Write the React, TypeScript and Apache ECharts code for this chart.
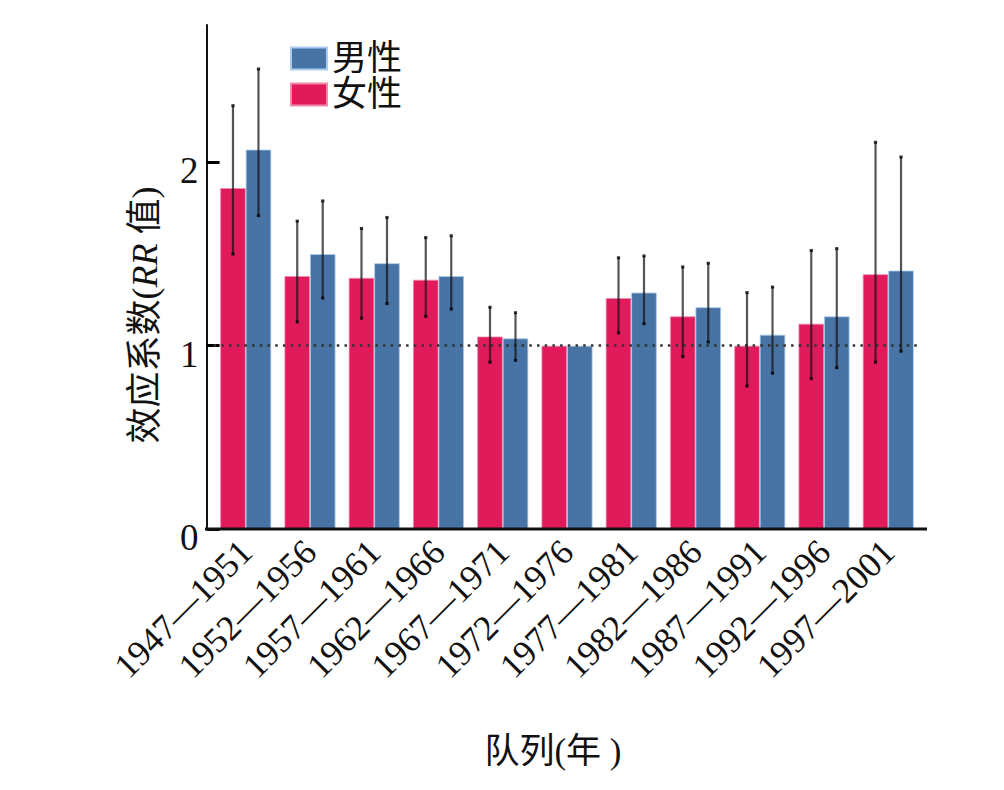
import React, { useEffect, useRef } from "react";
import * as echarts from "echarts";

const categories = [
  "1947—1951", "1952—1956", "1957—1961", "1962—1966", "1967—1971", "1972—1976",
  "1977—1981", "1982—1986", "1987—1991", "1992—1996", "1997—2001",
];
const femaleRR = [1.86, 1.38, 1.37, 1.36, 1.05, 1.0, 1.26, 1.16, 1.0, 1.12, 1.39];
const femaleLow = [1.50, 1.13, 1.15, 1.16, 0.91, 1.0, 1.07, 0.94, 0.78, 0.82, 0.91];
const femaleHigh = [2.31, 1.68, 1.64, 1.59, 1.21, 1.0, 1.48, 1.43, 1.29, 1.52, 2.11];
const maleRR = [2.07, 1.50, 1.45, 1.38, 1.04, 1.0, 1.29, 1.21, 1.06, 1.16, 1.41];
const maleLow = [1.71, 1.26, 1.23, 1.20, 0.92, 1.0, 1.12, 1.02, 0.85, 0.88, 0.97];
const maleHigh = [2.51, 1.79, 1.70, 1.60, 1.18, 1.0, 1.49, 1.45, 1.32, 1.53, 2.03];
const yTicks = [0, 1, 2];

const FEMALE = "#E11B5B";
const MALE = "#4873A5";
const BAR_W = 25.5;
const SERIF = "'Liberation Serif', 'Noto Sans CJK SC', serif";

function errorSeries(low: number[], high: number[], dx: number) {
  return {
    type: "custom",
    silent: true,
    z: 5,
    data: low.map((l, i) => [i, l, high[i]]),
    encode: { x: 0, y: [1, 2] },
    renderItem: (params: any, api: any) => {
      const i = api.value(0);
      const lo = api.value(1);
      const hi = api.value(2);
      if (lo === hi) return null;
      const pLo = api.coord([i, lo]);
      const pHi = api.coord([i, hi]);
      const x = pLo[0] + dx;
      const style = { stroke: "rgba(20,20,20,0.72)", lineWidth: 2.2 };
      const cap = { stroke: "rgba(0,0,0,0.8)", lineWidth: 3 };
      return {
        type: "group",
        children: [
          { type: "line", shape: { x1: x, y1: pLo[1], x2: x, y2: pHi[1] }, style },
          { type: "line", shape: { x1: x - 1.6, y1: pLo[1], x2: x + 1.6, y2: pLo[1] }, style: cap },
          { type: "line", shape: { x1: x - 1.6, y1: pHi[1], x2: x + 1.6, y2: pHi[1] }, style: cap },
        ],
      };
    },
  };
}

export default function App() {
  const ref = useRef<HTMLDivElement>(null);
  useEffect(() => {
    document.body.style.margin = "0";
    const chart = echarts.init(ref.current!, null, { renderer: "svg" });
    chart.setOption({
      animation: false,
      backgroundColor: "#ffffff",
      textStyle: { fontFamily: SERIF },
      legend: {
        orient: "vertical",
        left: 290,
        top: 41,
        padding: 0,
        data: ["男性", "女性"],
        itemWidth: 36,
        itemHeight: 22,
        itemGap: 1,
        icon: "rect",
        textStyle: { fontSize: 35, lineHeight: 34, color: "#111", fontFamily: SERIF },
      },
      grid: { left: 213.6, right: 83.6, top: 25, bottom: 261 },
      xAxis: {
        type: "category",
        data: categories,
        axisLine: { show: false },
        axisTick: { show: false },
        axisLabel: {
          rotate: 45,
          interval: 0,
          margin: 17,
          fontSize: 35.5,
          color: "#111",
          fontFamily: SERIF,
        },
        name: "队列(年 )",
        nameLocation: "middle",
        nameGap: 205,
        nameTextStyle: { fontSize: 35, color: "#111", fontFamily: SERIF, padding: [0, 28, 0, 0] },
      },
      yAxis: {
        type: "value",
        min: 0,
        max: 2.75,
        interval: 1,
        offset: 7,
        splitLine: { show: false },
        axisLine: { show: true, lineStyle: { color: "#111", width: 2 } },
        axisTick: { show: true, inside: true, length: 13, customValues: yTicks, lineStyle: { color: "#000", width: 3 } },
        axisLabel: {
          customValues: yTicks,
          fontSize: 37,
          color: "#111",
          margin: 8,
          fontFamily: SERIF,
          verticalAlign: "top",
          lineHeight: 17,
        },
        name: "{a|效应系数(}{i|RR}{a| 值)}",
        nameLocation: "middle",
        nameGap: 44,
        nameRotate: 90,
        nameTextStyle: {
          padding: [0, 76, 0, 0],
          rich: {
            a: { fontSize: 36, color: "#111", fontFamily: SERIF },
            i: { fontSize: 36, color: "#111", fontFamily: SERIF, fontStyle: "italic" },
          },
        },
      },
      graphic: [
        {
          type: "line",
          shape: { x1: 205, y1: 529, x2: 927, y2: 529 },
          style: { stroke: "#111", lineWidth: 3 },
          z: 10,
        },
      ],
      series: [
        {
          name: "女性",
          type: "bar",
          data: femaleRR,
          barWidth: BAR_W,
          barGap: "0%",
          itemStyle: { color: FEMALE, borderColor: "#f08aa8", borderWidth: 0.8 },
          markLine: {
            silent: true,
            symbol: "none",
            label: { show: false },
            lineStyle: { color: "#333", type: [2.5, 5.2], width: 2.6 },
            data: [{ yAxis: 1 }],
            z: 4,
          },
        },
        {
          name: "男性",
          type: "bar",
          data: maleRR,
          barWidth: BAR_W,
          barGap: "0%",
          itemStyle: { color: MALE, borderColor: "#a9cdee", borderWidth: 0.8 },
        },
        errorSeries(femaleLow, femaleHigh, -BAR_W / 2),
        errorSeries(maleLow, maleHigh, BAR_W / 2),
      ],
    });
    return () => chart.dispose();
  }, []);
  return <div ref={ref} style={{ width: 1004, height: 790 }} />;
}
